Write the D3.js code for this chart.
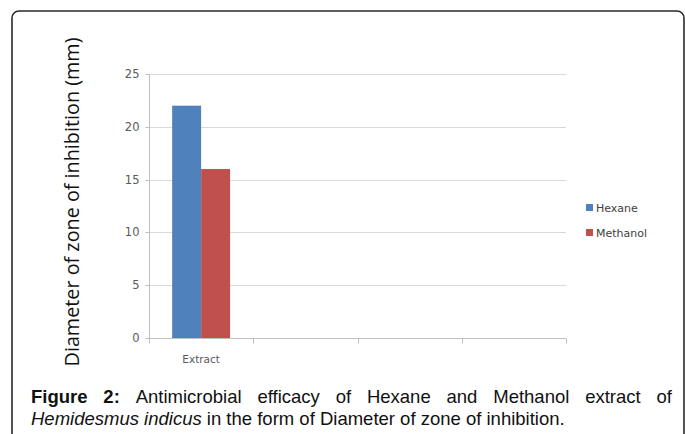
<!DOCTYPE html>
<html>
<head>
<meta charset="utf-8">
<script src="https://cdn.jsdelivr.net/npm/d3@7"></script>
<style>
  body { margin: 0; background: #fff; }
  svg { display: block; }
</style>
</head>
<body>
<svg id="chart"></svg>
<script>
const categories = ['Extract', '', '', ''];
const seriesNames = ['Hexane', 'Methanol'];
const hexane = [22, null, null, null];
const methanol = [16, null, null, null];
const yTicks = [0, 5, 10, 15, 20, 25];
const colors = ['#4F81BD', '#C0504D'];

const W = 685, H = 434;
const plot = {left: 149, right: 566, top: 74, bottom: 338};

const svg = d3.select('#chart').attr('width', W).attr('height', H);

// outer frame
svg.append('rect')
  .attr('x', 12).attr('y', 11)
  .attr('width', 684 - 12).attr('height', 460)
  .attr('rx', 7)
  .attr('fill', 'none')
  .attr('stroke', '#2a2a2a')
  .attr('stroke-width', 1.6);

const x = d3.scaleBand()
  .domain(d3.range(categories.length))
  .range([plot.left, plot.right]);

const xInner = d3.scaleBand()
  .domain(seriesNames)
  .range([0, x.bandwidth()])
  .paddingOuter(0.8);

const y = d3.scaleLinear()
  .domain([0, 25])
  .range([plot.bottom, plot.top]);

// gridlines
svg.append('g')
  .selectAll('line')
  .data(yTicks.filter(d => d > 0))
  .join('line')
  .attr('x1', plot.left).attr('x2', plot.right)
  .attr('y1', d => Math.round(y(d)) + 0.5)
  .attr('y2', d => Math.round(y(d)) + 0.5)
  .attr('stroke', '#d9d9d9');

// bars
const series = [hexane, methanol];
series.forEach((vals, si) => {
  svg.append('g')
    .selectAll('rect')
    .data(vals.map((v, i) => ({i, v})).filter(d => d.v != null))
    .join('rect')
    .attr('x', d => x(d.i) + xInner(seriesNames[si]))
    .attr('width', xInner.bandwidth())
    .attr('y', d => y(d.v))
    .attr('height', d => y(0) - y(d.v))
    .attr('fill', colors[si]);
});

// y axis
const yAxis = svg.append('g')
  .attr('transform', `translate(${plot.left + 0.5},0)`)
  .call(d3.axisLeft(y).tickValues(yTicks).tickSize(4).tickPadding(6));
yAxis.select('.domain').attr('stroke', '#bfbfbf').attr('d', `M0,${plot.top}V${plot.bottom}`);
yAxis.selectAll('.tick line').attr('stroke', '#bfbfbf');
yAxis.selectAll('.tick').attr('transform', d => `translate(0,${Math.round(y(d)) + 0.5})`);
yAxis.selectAll('.tick text')
  .attr('fill', '#595959')
  .style('font', '11.5px "DejaVu Sans", sans-serif');

// x axis
const xAxis = svg.append('g')
  .attr('transform', `translate(0,${plot.bottom + 0.5})`);
xAxis.append('line')
  .attr('x1', plot.left).attr('x2', plot.right)
  .attr('stroke', '#bfbfbf');
xAxis.selectAll('.xt')
  .data(d3.range(categories.length + 1))
  .join('line')
  .attr('class', 'xt')
  .attr('x1', i => Math.round(plot.left + i * x.step()) + 0.5)
  .attr('x2', i => Math.round(plot.left + i * x.step()) + 0.5)
  .attr('y1', 0).attr('y2', 5)
  .attr('stroke', '#bfbfbf');
xAxis.selectAll('text')
  .data(categories)
  .join('text')
  .attr('x', (d, i) => x(i) + x.bandwidth() / 2)
  .attr('y', 24)
  .attr('text-anchor', 'middle')
  .attr('fill', '#595959')
  .style('font', '10.5px "DejaVu Sans", sans-serif')
  .text(d => d);

// y title
svg.append('text')
  .attr('transform', `translate(79,${(38 + 366) / 2}) rotate(-90)`)
  .attr('text-anchor', 'middle')
  .attr('fill', '#111')
  .style('font', '19.8px "Open Sans", sans-serif')
  .text('Diameter of zone of inhibition (mm)');

// legend
const legend = svg.append('g').attr('transform', 'translate(586,202)');
seriesNames.forEach((name, i) => {
  const g = legend.append('g').attr('transform', `translate(0,${i * 25})`);
  g.append('rect').attr('width', 7).attr('height', 7).attr('y', 2).attr('fill', colors[i]);
  g.append('text').attr('x', 10).attr('y', 10)
    .attr('fill', '#404040')
    .style('font', '11px "DejaVu Sans", sans-serif')
    .text(name);
});

// caption, first line justified
const capFont = '18.5px "Liberation Sans", Arial, sans-serif';
const line1 = [
  {t: 'Figure', b: true}, {t: '2:', b: true}, {t: 'Antimicrobial'}, {t: 'efficacy'},
  {t: 'of'}, {t: 'Hexane'}, {t: 'and'}, {t: 'Methanol'}, {t: 'extract'}, {t: 'of'}
];
const capX0 = 31, capX1 = 672;
const words = svg.append('g').selectAll('text')
  .data(line1)
  .join('text')
  .attr('y', 403)
  .attr('fill', '#111')
  .style('font', capFont)
  .style('font-weight', d => d.b ? 'bold' : 'normal')
  .text(d => d.t);
const widths = [];
words.each(function () { widths.push(this.getComputedTextLength()); });
const gap = (capX1 - capX0 - d3.sum(widths)) / (widths.length - 1);
let cx = capX0;
words.attr('x', (d, i) => { const p = cx; cx += widths[i] + gap; return p; });

const line2 = svg.append('text')
  .attr('x', capX0).attr('y', 425)
  .attr('fill', '#111')
  .style('font', capFont);
line2.append('tspan').style('font-style', 'italic').text('Hemidesmus indicus');
line2.append('tspan').text(' in the form of Diameter of zone of inhibition.');
</script>
</body>
</html>
